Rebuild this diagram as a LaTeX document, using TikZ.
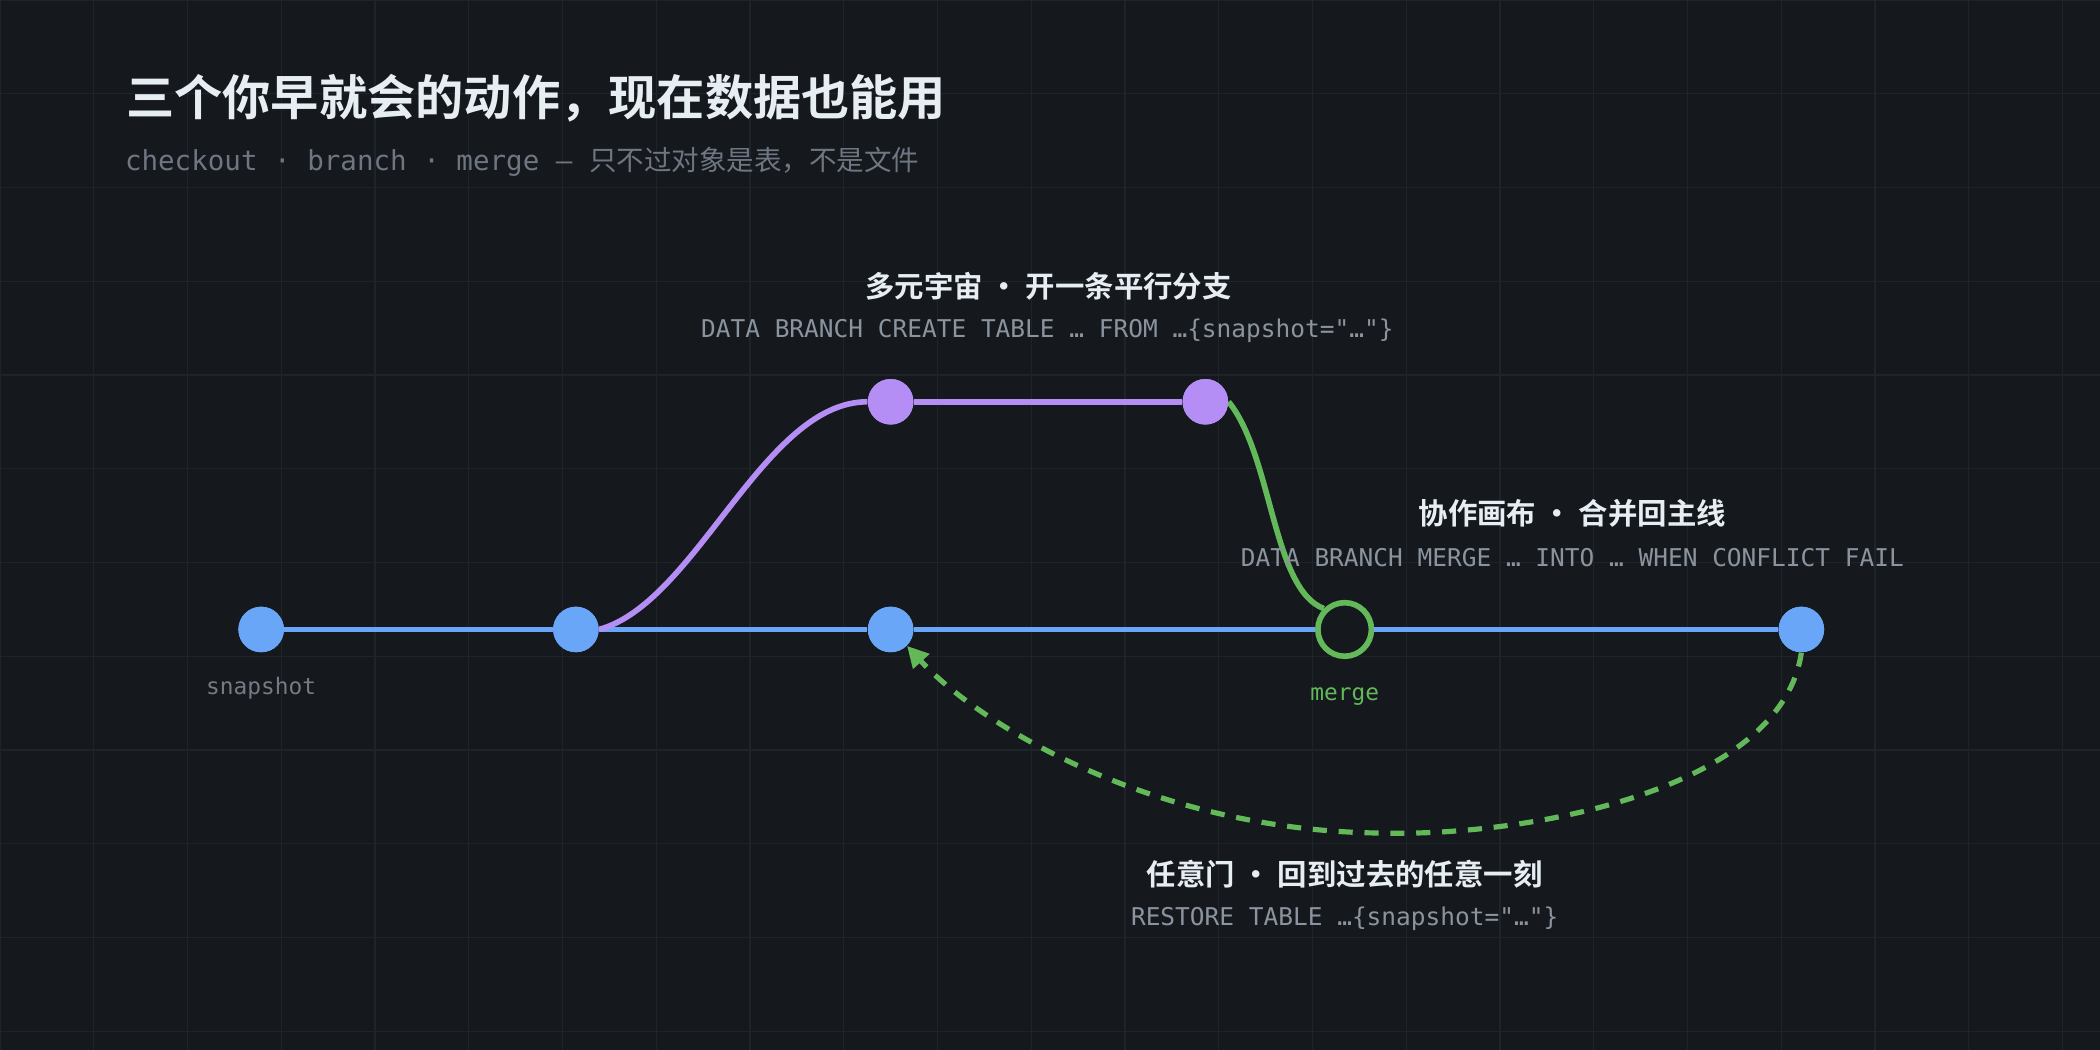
\documentclass[tikz,border=0pt]{standalone}
\usepackage{fontspec}
\setmonofont{DejaVu Sans Mono}
\newfontfamily\cjk{Noto Sans CJK SC}[BoldFont={* Bold}]
\usetikzlibrary{arrows.meta}
\definecolor{bg}{HTML}{15181D}
\definecolor{gridc}{HTML}{1F232A}
\definecolor{blu}{HTML}{6AA6F8}
\definecolor{pur}{HTML}{B48EF5}
\definecolor{grn}{HTML}{63B95A}
\definecolor{head}{HTML}{E6EDF3}
\definecolor{sub}{HTML}{6E7681}
\definecolor{code}{HTML}{8B949E}
\tikzset{
 dot/.style={circle,fill=#1,minimum size=0.68cm,inner sep=0},
 hd/.style={text=head,font=\cjk\bfseries\fontsize{12.5}{14}\selectfont},
 cd/.style={text=code,font=\ttfamily\fontsize{10.4}{12}\selectfont},
 sm/.style={font=\ttfamily\fontsize{9.7}{11}\selectfont},
}
\begin{document}
\begin{tikzpicture}[x=0.02cm,y=-0.02cm]
\fill[bg] (0,0) rectangle (1568,784);
\useasboundingbox (0,0) rectangle (1568,784);
\foreach \i in {0,70,...,1568} \draw[gridc,line width=0.6pt] (\i,0) -- (\i,784);
\foreach \j in {0,70,...,784} \draw[gridc,line width=0.6pt] (0,\j) -- (1568,\j);
\node[anchor=west,text=head,font=\cjk\bfseries\fontsize{20.5}{24}\selectfont] (title) at (88,73) {三个你早就会的动作，现在数据也能用};
\node[anchor=west,text=sub,font=\fontsize{11.7}{14}\selectfont,inner sep=0] (subt) at (93,121) {\ttfamily checkout · branch · merge — \cjk 只不过对象是表，不是文件};
% main line nodes
\node[dot=blu] (a) at (195,470) {};
\node[dot=blu] (b) at (430,470) {};
\node[dot=blu] (c) at (665,470) {};
\node[circle,draw=grn,line width=2.4pt,minimum size=0.8cm,inner sep=0] (m) at (1004,470) {};
\node[dot=blu] (e) at (1345,470) {};
\node[dot=pur] (p1) at (665,300) {};
\node[dot=pur] (p2) at (900,300) {};
\begin{scope}[on background layer/.style={}]
\end{scope}
\draw[blu,line width=2.4pt] (a) -- (b) -- (c) -- (m) -- (e);
\draw[pur,line width=2.4pt] (b.east) .. controls (520,450) and (570,300) .. (p1.west);
\draw[pur,line width=2.4pt] (p1) -- (p2);
\draw[grn,line width=2.4pt] (p2.east) .. controls (950,340) and (950,440) .. (m.north west);
\draw[grn,line width=2.2pt,dashed,dash pattern=on 6pt off 5pt,-{Triangle[length=9pt,width=9pt]}] (e.south) .. controls (1330,590) and (1140,625) .. (1030,622) .. controls (860,620) and (730,540) .. (c.south east);
% redraw dots above lines
\node[dot=blu] at (195,470) {};
\node[dot=blu] at (430,470) {};
\node[dot=blu] at (665,470) {};
\node[dot=blu] at (1345,470) {};
\node[dot=pur] at (665,300) {};
\node[dot=pur] at (900,300) {};
\node[sm,text=code!80!bg] (lsnap) at (195,514) {snapshot};
\node[sm,text=grn] (lmerge) at (1004,520) {merge};
\node[hd] (h1) at (783,214) {多元宇宙 · 开一条平行分支};
\node[cd] (c1) at (782,247) {DATA BRANCH CREATE TABLE … FROM …\{snapshot="…"\}};
\node[hd] (h2) at (1174,383) {协作画布 · 合并回主线};
\node[cd] (c2) at (1174,416) {DATA BRANCH MERGE … INTO … WHEN CONFLICT FAIL};
\node[hd] (h3) at (1004,653) {任意门 · 回到过去的任意一刻};
\node[cd] (c3) at (1004,686) {RESTORE TABLE …\{snapshot="…"\}};
\end{tikzpicture}
\end{document}
